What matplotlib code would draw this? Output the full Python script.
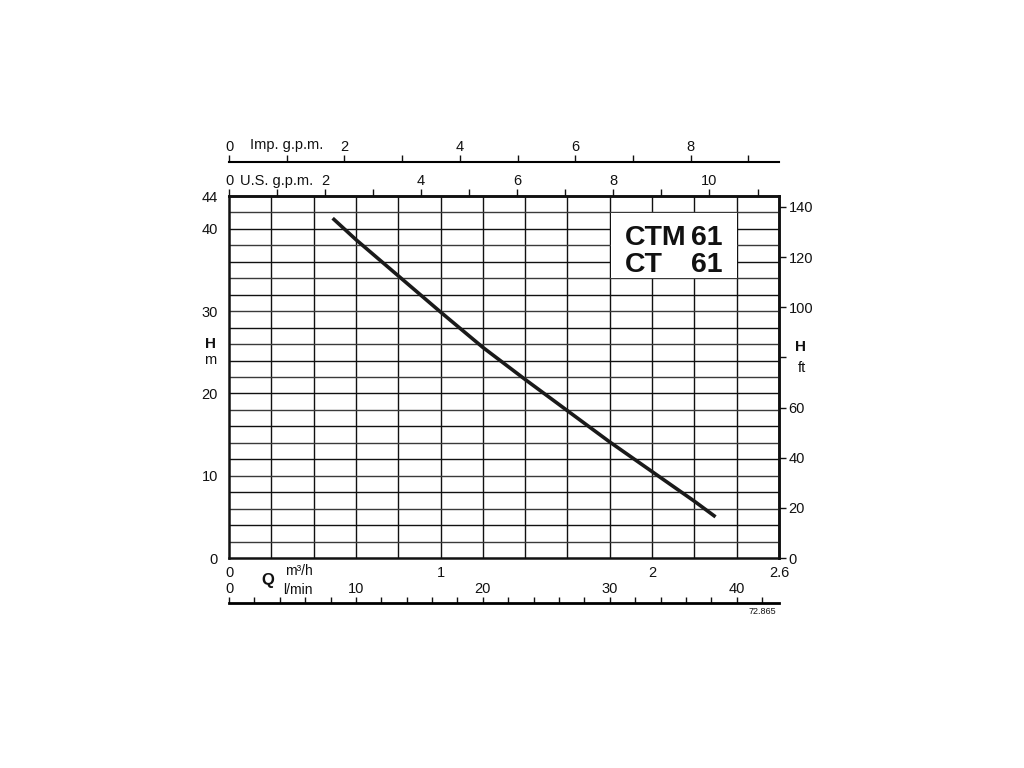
import matplotlib
matplotlib.use("Agg")
import matplotlib.pyplot as plt
from matplotlib.patches import Rectangle
from matplotlib.ticker import FixedLocator, NullFormatter

plt.rcParams['font.family'] = ['Liberation Sans', 'DejaVu Sans']

# ---- data ----
q_m3h = [0.49, 0.60, 0.80, 1.00, 1.20, 1.40, 1.60, 1.80, 2.00, 2.20, 2.30]
h_m = [41.3, 38.7, 34.3, 29.9, 25.6, 21.7, 17.9, 14.1, 10.5, 6.9, 5.0]

m3h_ticks = [0, 1, 2, 2.6]
m3h_labels = ['0', '1', '2', '2.6']
m_ticks = [0, 10, 20, 30, 40, 44]
ft_ticks = [0, 20, 40, 60, 80, 100, 120, 140]
ft_labels = ['0', '20', '40', '60', '', '100', '120', '140']
usgpm_major = [0, 2, 4, 6, 8, 10]
usgpm_minor = [1, 3, 5, 7, 9, 11]
impgpm_major = [0, 2, 4, 6, 8]
impgpm_minor = [1, 3, 5, 7, 9]
lmin_major = [0, 10, 20, 30, 40]
lmin_minor = [2, 4, 6, 8, 12, 14, 16, 18, 22, 24, 26, 28, 32, 34, 36, 38, 42]

Q_MAX = 2.6
H_MAX = 44
US = 4.40287
IMP = 3.66614
LMIN = 16.6667
FT = 3.28084

W, H = 1024, 768
def fx(px): return px / W
def fy(py): return 1 - py / H

fig = plt.figure(figsize=(10.24, 7.68), dpi=100)
L, R, T, B = 229, 779, 196, 558
ax = fig.add_axes([fx(L), fy(B), fx(R) - fx(L), fy(T) - fy(B)])
ax.set_xlim(0, Q_MAX)
ax.set_ylim(0, H_MAX)

# grid
for i in range(1, 13):
    ax.axvline(i * 0.2, color='#111111', lw=1.0, zorder=1)
for j in range(1, 22):
    ax.axhline(j * 2, color='#3a3a3a' if j % 2 else '#111111', lw=1.0, zorder=1)

for s in ax.spines.values():
    s.set_linewidth(1.8)
    s.set_color('#111111')

ax.plot(q_m3h, h_m, color='#1a1a1a', lw=2.6, solid_capstyle='butt', zorder=3)

ax.set_xticks(m3h_ticks)
ax.set_xticklabels(m3h_labels)
ax.set_yticks(m_ticks)
ax.set_yticklabels([str(v) for v in m_ticks])
ax.tick_params(axis='x', length=0, pad=6, labelsize=10.5, colors='#111111')
ax.tick_params(axis='y', length=0, pad=8, labelsize=10.5, colors='#111111')

# right ft axis
sec_r = ax.secondary_yaxis('right', functions=(lambda m: m * FT, lambda f: f / FT))
sec_r.set_yticks(ft_ticks)
sec_r.set_yticklabels(ft_labels)
sec_r.tick_params(direction='out', length=5, width=1, pad=2, labelsize=10.5, colors='#111111')
sec_r.spines['right'].set_linewidth(1.8)

# top US gpm axis
sec_t = ax.secondary_xaxis('top', functions=(lambda q: q * US, lambda g: g / US))
sec_t.xaxis.set_major_locator(FixedLocator(usgpm_major))
sec_t.xaxis.set_minor_locator(FixedLocator(usgpm_minor))
sec_t.set_xticklabels([str(v) for v in usgpm_major])
sec_t.xaxis.set_minor_formatter(NullFormatter())
sec_t.tick_params(which='both', direction='out', length=5, width=1, pad=1, labelsize=10.5, colors='#111111')
sec_t.spines['top'].set_linewidth(1.8)

# Imp gpm axis line
ax_imp = fig.add_axes([fx(L), fy(162), fx(R) - fx(L), 0.0001])
ax_imp.set_xlim(0, Q_MAX * IMP)
ax_imp.patch.set_visible(False)
for k in ['left', 'right', 'bottom']:
    ax_imp.spines[k].set_visible(False)
ax_imp.spines['top'].set_linewidth(1.5)
ax_imp.set_yticks([])
ax_imp.xaxis.set_ticks_position('top')
ax_imp.xaxis.set_label_position('top')
ax_imp.xaxis.set_major_locator(FixedLocator(impgpm_major))
ax_imp.xaxis.set_minor_locator(FixedLocator(impgpm_minor))
ax_imp.set_xticklabels([str(v) for v in impgpm_major])
ax_imp.xaxis.set_minor_formatter(NullFormatter())
ax_imp.tick_params(which='both', direction='out', length=5, width=1, pad=1, labelsize=10.5, colors='#111111')

# l/min axis line
ax_l = fig.add_axes([fx(L), fy(603), fx(R) - fx(L), 0.0001])
ax_l.set_xlim(0, Q_MAX * LMIN)
ax_l.patch.set_visible(False)
for k in ['left', 'right', 'bottom']:
    ax_l.spines[k].set_visible(False)
ax_l.spines['top'].set_linewidth(2.0)
ax_l.set_yticks([])
ax_l.xaxis.set_ticks_position('top')
ax_l.xaxis.set_major_locator(FixedLocator(lmin_major))
ax_l.xaxis.set_minor_locator(FixedLocator(lmin_minor))
ax_l.set_xticklabels([str(v) for v in lmin_major])
ax_l.xaxis.set_minor_formatter(NullFormatter())
ax_l.tick_params(which='both', direction='out', length=4, width=1, pad=1, labelsize=10.5, colors='#111111')

# model box
def axf(px, py):
    return ((px - L) / (R - L), (B - py) / (B - T))
x0, y0 = axf(611, 278)
x1, y1 = axf(737, 213)
ax.add_patch(Rectangle((x0, y0), x1 - x0, y1 - y0, transform=ax.transAxes,
                       facecolor='white', edgecolor='none', zorder=2))
xa, ya = axf(625, 245)
xb, yb = axf(723, 272)
tkw = dict(transform=ax.transAxes, fontsize=20.5, fontweight='bold', color='#111111', zorder=4)
ax.text(xa, ya, 'CTM', ha='left', va='baseline', **tkw)
ax.text(xb, ya, '61', ha='right', va='baseline', **tkw)
ax.text(xa, yb, 'CT', ha='left', va='baseline', **tkw)
ax.text(xb, yb, '61', ha='right', va='baseline', **tkw)

# axis titles
c = '#111111'
fig.text(fx(250), fy(145), 'Imp. g.p.m.', ha='left', va='center', fontsize=10.5, color=c)
fig.text(fx(240), fy(181), 'U.S. g.p.m.', ha='left', va='center', fontsize=10.5, color=c)
fig.text(fx(210), fy(344), 'H', ha='center', va='center', fontsize=11, fontweight='bold', color=c)
fig.text(fx(210), fy(360), 'm', ha='center', va='center', fontsize=10.5, color=c)
fig.text(fx(801), fy(347), 'H', ha='center', va='center', fontsize=11, fontweight='bold', color=c)
fig.text(fx(802), fy(368), 'ft', ha='center', va='center', fontsize=10.5, color=c)
fig.text(fx(268), fy(580), 'Q', ha='center', va='center', fontsize=12, fontweight='bold', color=c)
fig.text(fx(285), fy(571), 'm³/h', ha='left', va='center', fontsize=10, color=c)
fig.text(fx(283), fy(590), 'l/min', ha='left', va='center', fontsize=10, color=c)
fig.text(fx(776), fy(612), '72.865', ha='right', va='center', fontsize=6.5, color=c)

fig.savefig('out.png', dpi=100)
